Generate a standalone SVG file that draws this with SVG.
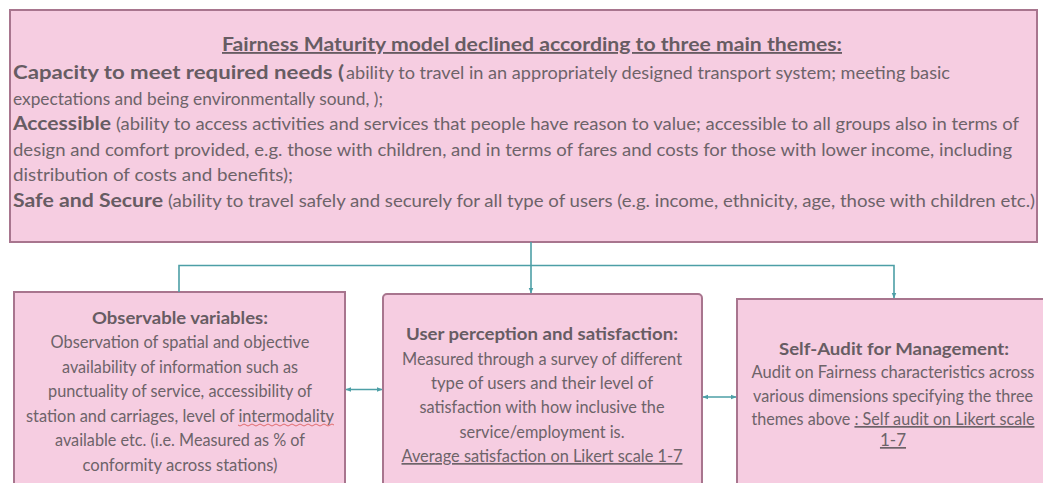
<svg xmlns="http://www.w3.org/2000/svg" width="1043" height="483" viewBox="0 0 1043 483">
<defs>
<style>
.box{fill:#f6cde1;stroke:#a8758e;stroke-width:2}
.t{font-family:Lato,"Liberation Sans",sans-serif;fill:#6d6369}
.top{font-size:17px}
.tb{font-size:18.5px}
.bt{font-size:17px}
.b{font-weight:bold;fill:#675c63}
.c{text-anchor:middle}
.u{text-decoration:underline}
.con{fill:none;stroke:#4d9fa6;stroke-width:1.6}
</style>
<marker id="ah" viewBox="0 0 10 10" refX="9" refY="5" markerWidth="6" markerHeight="6" orient="auto-start-reverse" markerUnits="userSpaceOnUse">
<path d="M0,1 L10,5 L0,9 z" fill="#4d9fa6"/>
</marker>
</defs>
<rect width="1043" height="483" fill="#ffffff"/>
<g id="top-box">
<rect class="box" x="10" y="10" width="1027" height="232"/>
<text class="t tb b c u" x="532" y="51" textLength="620" lengthAdjust="spacingAndGlyphs">Fairness Maturity model declined according to three main themes:</text>
<text class="t tb b" x="13" y="79" textLength="331" lengthAdjust="spacingAndGlyphs">Capacity to meet required needs (</text>
<text class="t top" x="346" y="79" textLength="604" lengthAdjust="spacingAndGlyphs">ability to travel in an appropriately designed transport system; meeting basic</text>
<text class="t top" x="13" y="104.5" textLength="370" lengthAdjust="spacingAndGlyphs">expectations and being environmentally sound, );</text>
<text class="t tb b" x="13" y="130" textLength="98" lengthAdjust="spacingAndGlyphs">Accessible</text>
<text class="t top" x="116" y="130" textLength="903" lengthAdjust="spacingAndGlyphs">(ability to access activities and services that people have reason to value; accessible to all groups also in terms of</text>
<text class="t top" x="13" y="155.5" textLength="999" lengthAdjust="spacingAndGlyphs">design and comfort provided, e.g. those with children, and in terms of fares and costs for those with lower income, including</text>
<text class="t top" x="13" y="181" textLength="280" lengthAdjust="spacingAndGlyphs">distribution of costs and benefits);</text>
<text class="t tb b" x="13" y="206.5" textLength="150" lengthAdjust="spacingAndGlyphs">Safe and Secure</text>
<text class="t top" x="168" y="206.5" textLength="867" lengthAdjust="spacingAndGlyphs">(ability to travel safely and securely for all type of users (e.g. income, ethnicity, age, those with children etc.)</text>
</g>
<g id="observable-variables">
<rect class="box" x="14" y="292" width="331" height="200"/>
<text class="t bt b c" x="180" y="324" textLength="176" lengthAdjust="spacingAndGlyphs">Observable variables:</text>
<text class="t bt c" x="180" y="348" textLength="259" lengthAdjust="spacingAndGlyphs">Observation of spatial and objective</text>
<text class="t bt c" x="180" y="372.5" textLength="236" lengthAdjust="spacingAndGlyphs">availability of information such as</text>
<text class="t bt c" x="180" y="397" textLength="264" lengthAdjust="spacingAndGlyphs">punctuality of service, accessibility of</text>
<text class="t bt c" x="180" y="421.5" textLength="308" lengthAdjust="spacingAndGlyphs">station and carriages, level of intermodality</text>
<path d="M238,425 q2,2 4,0 t4,0 t4,0 t4,0 t4,0 t4,0 t4,0 t4,0 t4,0 t4,0 t4,0 t4,0 t4,0 t4,0 t4,0 t4,0 t4,0 t4,0 t4,0 t4,0 t4,0 t4,0 t4,0 t4,0" fill="none" stroke="#d9524f" stroke-width="0.8"/>
<text class="t bt c" x="180" y="446" textLength="250" lengthAdjust="spacingAndGlyphs">available etc. (i.e. Measured as % of</text>
<text class="t bt c" x="180" y="470.5" textLength="195" lengthAdjust="spacingAndGlyphs">conformity across stations)</text>
</g>
<g id="user-perception">
<rect class="box" x="383" y="294" width="319" height="198" rx="4"/>
<text class="t bt b c" x="542" y="340" textLength="272" lengthAdjust="spacingAndGlyphs">User perception and satisfaction:</text>
<text class="t bt c" x="542" y="365" textLength="280" lengthAdjust="spacingAndGlyphs">Measured through a survey of different</text>
<text class="t bt c" x="542" y="389" textLength="222" lengthAdjust="spacingAndGlyphs">type of users and their level of</text>
<text class="t bt c" x="542" y="413" textLength="245" lengthAdjust="spacingAndGlyphs">satisfaction with how inclusive the</text>
<text class="t bt c" x="542" y="438" textLength="165" lengthAdjust="spacingAndGlyphs">service/employment is.</text>
<text class="t bt c u" x="542" y="462" textLength="281" lengthAdjust="spacingAndGlyphs">Average satisfaction on Likert scale 1-7</text>
</g>
<g id="self-audit">
<rect class="box" x="737" y="299" width="320" height="200"/>
<text class="t bt b c" x="894" y="355" textLength="230" lengthAdjust="spacingAndGlyphs">Self-Audit for Management:</text>
<text class="t bt c" x="893" y="378" textLength="283" lengthAdjust="spacingAndGlyphs">Audit on Fairness characteristics across</text>
<text class="t bt c" x="893" y="402" textLength="280" lengthAdjust="spacingAndGlyphs">various dimensions specifying the three</text>
<text class="t bt c" x="893" y="425" textLength="283" lengthAdjust="spacingAndGlyphs">themes above <tspan class="u">: Self audit on Likert scale</tspan></text>
<text class="t bt c u" x="893" y="446">1-7</text>
</g>
<g id="connectors">
<path class="con" d="M531,242 V293" marker-end="url(#ah)"/>
<path class="con" d="M179,292 V265.5 H894 V298" marker-end="url(#ah)"/>
<path class="con" d="M346,389.5 H382" marker-start="url(#ah)" marker-end="url(#ah)"/>
<path class="con" d="M703,397 H736" marker-start="url(#ah)" marker-end="url(#ah)"/>
</g>
</svg>
